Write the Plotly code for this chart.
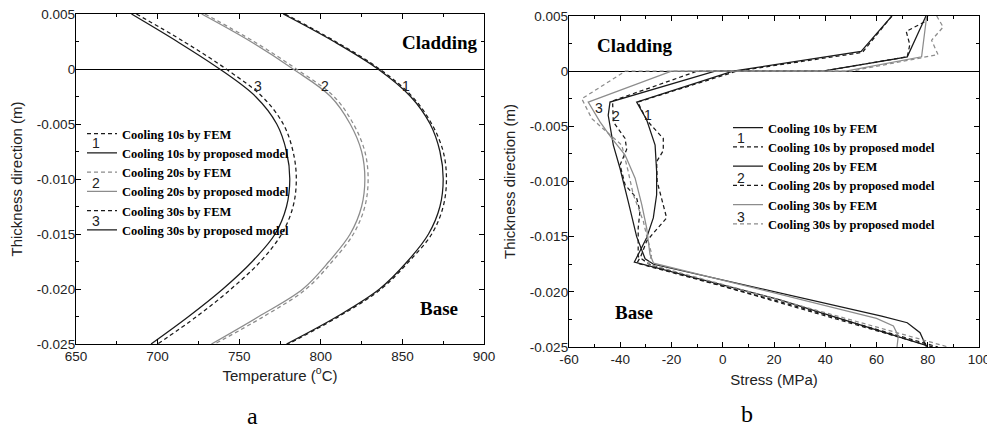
import plotly.graph_objects as go

# page is 995x431, the html body adds an 8px margin
OFF = 8
W, H = 995 - OFF, 431 - OFF


def fx(px):
    return (px - OFF) / W


def fy(py):
    return 1 - (py - OFF) / H


# ---------------- panel a : temperature ----------------
thick_a = [0.005, 0.0025, 0.0, -0.0025, -0.005, -0.0075, -0.010,
           -0.0125, -0.015, -0.0175, -0.020, -0.0225, -0.025]
temp_fem_10 = [778, 809, 836, 856, 868, 875, 877, 875, 868, 854, 837, 811, 780]
temp_model_10 = [777, 808, 835, 855, 867, 873, 875, 873, 866, 853, 836, 810, 779]
temp_fem_20 = [729, 759, 785, 808, 820, 827, 829, 827, 820, 807, 791, 765, 735]
temp_model_20 = [727, 757, 783, 806, 818, 825, 827, 825, 818, 805, 789, 762, 733]
temp_fem_30 = [687, 716, 742, 764, 777, 783, 785, 783, 776, 763, 745, 724, 700]
temp_model_30 = [684, 712, 738, 760, 773, 779, 781, 779, 772, 758, 740, 719, 696]

# ---------------- panel b : stress ----------------
b_fem10_s = [66, 54, 4, -33.6, -29.7, -26.4, -25.8, -25.8, -27.1, -29.7, -32.3, -34.5, 22, 80]
b_fem10_t = [0.005, 0.0018, 0.0, -0.0028, -0.0044, -0.0067, -0.0091, -0.0112, -0.0133,
             -0.0151, -0.0163, -0.0173, -0.0207, -0.0249]
b_mod10_s = [66, 54.5, 5.5, -33.2, -29.5, -23.2, -23.2, -25.8, -25.6, -23.2, -21.9,
             -26.4, -29.7, -32, -33.5, 21, 84]
b_mod10_t = [0.005, 0.0017, 0.0, -0.0028, -0.0045, -0.0061, -0.0072, -0.0082, -0.0100,
             -0.0121, -0.0133, -0.0145, -0.0154, -0.0168, -0.0174, -0.0208, -0.025]
b_fem20_s = [79.3, 72, 39, -3, -44, -44.7, -42.7, -40.1, -36.9, -34.2, -33.6, -30.3, -27,
             62, 72, 77, 79.5]
b_fem20_t = [0.005, 0.0013, 0.0, 0.0, -0.0028, -0.0040, -0.0067, -0.0088, -0.0118, -0.0142,
             -0.0150, -0.0170, -0.0175, -0.0222, -0.0228, -0.0237, -0.025]
b_mod20_s = [80, 79, 71.6, 73, 72, 39, -10, -43, -42.7, -38.1, -37.5, -40.1, -38.1, -33.6,
             -32.3, -33, -33, -33, -28, 82]
b_mod20_t = [0.005, 0.0045, 0.0036, 0.0024, 0.0013, 0.0, 0.0, -0.0027, -0.0046, -0.0061,
             -0.0071, -0.0085, -0.0103, -0.0115, -0.0127, -0.0142, -0.0157, -0.0168,
             -0.0176, -0.025]
b_fem30_s = [79.6, 77.6, 48, -20, -52.5, -47.9, -43.3, -38.1, -34.2, -31.6, -29.7, -28.4,
             -27, 60, 66.6, 68.5, 68]
b_fem30_t = [0.005, 0.0013, 0.0, 0.0, -0.0028, -0.0046, -0.0061, -0.0076, -0.0097,
             -0.0121, -0.0142, -0.0166, -0.0174, -0.0224, -0.0231, -0.0240, -0.025]
b_mod30_s = [83.5, 86, 81.5, 84, 50, -38, -55, -51.1, -45.3, -39.4, -37, -34.9, -31,
             -29.7, -27.7, -29, 20, 88]
b_mod30_t = [0.005, 0.0040, 0.0028, 0.0015, 0.0, 0.0, -0.0025, -0.0043, -0.0055, -0.0067,
             -0.0090, -0.0112, -0.0136, -0.0149, -0.0166, -0.0175, -0.0206, -0.025]

# ---------------- ticks / labels ----------------
thick_ticks = [0.005, 0.0, -0.005, -0.010, -0.015, -0.020, -0.025]
thick_ticktext = ["0.005", "0", "-0.005", "-0.010", "-0.015", "-0.020", "-0.025"]
thick_minor = [0.0025, -0.0025, -0.0075, -0.0125, -0.0175, -0.0225]
temp_ticks = [650, 700, 750, 800, 850, 900]
temp_minor = [675, 725, 775, 825, 875]
stress_ticks = [-60, -40, -20, 0, 20, 40, 60, 80, 100]
stress_ticktext = ["-60", "-40", "-20", "0", "20", "40", "60", "80", "100"]
stress_minor = [-50, -30, -10, 10, 30, 50, 70, 90]

names = ["Cooling 10s by FEM", "Cooling 10s by proposed model",
         "Cooling 20s by FEM", "Cooling 20s by proposed model",
         "Cooling 30s by FEM", "Cooling 30s by proposed model"]

BLACK = "#1a1a1a"
GRAY = "#8c8c8c"
DASH = "4px,3px"
LW = 1.25

fig = go.Figure()

a_series = [
    (temp_fem_10, BLACK, DASH), (temp_model_10, BLACK, "solid"),
    (temp_fem_20, GRAY, DASH), (temp_model_20, GRAY, "solid"),
    (temp_fem_30, BLACK, DASH), (temp_model_30, BLACK, "solid"),
]
for nm, (vals, col, dash) in zip(names, a_series):
    fig.add_trace(go.Scatter(x=vals, y=thick_a, mode="lines", name=nm,
                             line=dict(color=col, width=LW, dash=dash, shape="spline"),
                             xaxis="x", yaxis="y", legend="legend"))

b_series = [
    (b_fem10_s, b_fem10_t, BLACK, "solid"), (b_mod10_s, b_mod10_t, BLACK, DASH),
    (b_fem20_s, b_fem20_t, BLACK, "solid"), (b_mod20_s, b_mod20_t, BLACK, DASH),
    (b_fem30_s, b_fem30_t, GRAY, "solid"), (b_mod30_s, b_mod30_t, GRAY, DASH),
]
for nm, (sx, ty, col, dash) in zip(names, b_series):
    fig.add_trace(go.Scatter(x=sx, y=ty, mode="lines", name=nm,
                             line=dict(color=col, width=LW, dash=dash),
                             xaxis="x2", yaxis="y2", legend="legend2"))

tickfont = dict(family="Liberation Sans, Arial", size=13.5, color="#222")
titlefont = dict(family="Liberation Sans, Arial", size=15, color="#222")


def xax(domain, rng, tv, tt, minor, title, anchor, standoff):
    return dict(domain=domain, range=rng, anchor=anchor, tickmode="array", tickvals=tv,
                ticktext=tt, ticks="inside", ticklen=5, tickwidth=1.2, tickcolor="black",
                showline=True, linecolor="black", linewidth=1.3, mirror="ticks",
                showgrid=False, zeroline=False, tickfont=tickfont, automargin=False,
                ticklabeloverflow="allow",
                minor=dict(tickmode="array", tickvals=minor, ticks="inside", ticklen=3,
                           tickwidth=1.1, tickcolor="black", showgrid=False),
                title=dict(text=title, font=titlefont, standoff=standoff))


def yax(domain, anchor):
    return dict(domain=domain, range=[-0.025, 0.005], anchor=anchor, tickmode="array",
                tickvals=thick_ticks, ticktext=thick_ticktext, ticks="inside", ticklen=5,
                tickwidth=1.2, tickcolor="black", showline=True, linecolor="black",
                linewidth=1.3, mirror="ticks", showgrid=False, zeroline=True,
                zerolinecolor="black", zerolinewidth=1.3, tickfont=tickfont,
                automargin=False, ticklabelstandoff=-3, ticklabeloverflow="allow",
                minor=dict(tickmode="array", tickvals=thick_minor, ticks="inside", ticklen=3,
                           tickwidth=1.1, tickcolor="black", showgrid=False),
                title=dict(text="Thickness direction (m)", font=titlefont, standoff=10))


leg_font = dict(family="Liberation Serif, Times New Roman", size=12.5, color="black",
                weight="bold")

fig.update_layout(
    template="none",
    width=W, height=H, margin=dict(l=0, r=0, t=0, b=0, pad=0, autoexpand=False),
    paper_bgcolor="white", plot_bgcolor="white",
    xaxis=xax([fx(76), fx(484)], [650, 900], temp_ticks, [str(v) for v in temp_ticks],
              temp_minor, "Temperature (<sup>o</sup>C)", "y", 6),
    yaxis=yax([fy(344), fy(14)], "x"),
    xaxis2=xax([fx(569), fx(979)], [-60, 100], stress_ticks, stress_ticktext,
               stress_minor, "Stress (MPa)", "y2", 8),
    yaxis2=yax([fy(347), fy(16)], "x2"),
    legend=dict(x=fx(82), y=fy(119), xanchor="left", yanchor="top",
                bgcolor="rgba(0,0,0,0)", borderwidth=0, font=leg_font,
                tracegroupgap=0, itemwidth=30),
    legend2=dict(x=fx(728), y=fy(113), xanchor="left", yanchor="top",
                 bgcolor="rgba(0,0,0,0)", borderwidth=0, font=leg_font,
                 tracegroupgap=0, itemwidth=30),
    showlegend=True,
)

serif_bold = dict(family="Liberation Serif, Times New Roman", size=19, color="black",
                  weight="bold")
label_font = dict(family="Liberation Sans, Arial", size=14, color="#222")

ann = []
ann += [dict(x=872.6, y=0.0024, xref="x", yref="y", text="Cladding", font=serif_bold),
        dict(x=872.6, y=-0.0218, xref="x", yref="y", text="Base", font=serif_bold),
        dict(x=-34.5, y=0.0023, xref="x2", yref="y2", text="Cladding", font=serif_bold),
        dict(x=-34.5, y=-0.0219, xref="x2", yref="y2", text="Base", font=serif_bold)]
curve_lbl_a = [(852.2, -0.0015, "1"), (802.6, -0.0015, "2"), (761.7, -0.0015, "3")]
curve_lbl_b = [(-29, -0.0040, "1"), (-41.8, -0.0041, "2"), (-48.4, -0.0033, "3")]
for x, y, t in curve_lbl_a:
    ann.append(dict(x=x, y=y, xref="x", yref="y", text=t, font=label_font))
for x, y, t in curve_lbl_b:
    ann.append(dict(x=x, y=y, xref="x2", yref="y2", text=t, font=label_font))
for px, py, t in [(96, 143, "1"), (96, 182.5, "2"), (96, 220.5, "3"),
                  (741, 138, "1"), (741, 177.5, "2"), (741, 216.5, "3")]:
    ann.append(dict(x=fx(px), y=fy(py), xref="paper", yref="paper", text=t,
                    font=label_font))
ann += [dict(x=fx(252), y=fy(416), xref="paper", yref="paper", text="a",
             font=dict(family="Liberation Serif, Times New Roman", size=24, color="black")),
        dict(x=fx(747), y=fy(414), xref="paper", yref="paper", text="b",
             font=dict(family="Liberation Serif, Times New Roman", size=24, color="black"))]
for a in ann:
    a.update(showarrow=False, xanchor="center", yanchor="middle")
fig.update_layout(annotations=ann)

fig.write_html("out.html")
